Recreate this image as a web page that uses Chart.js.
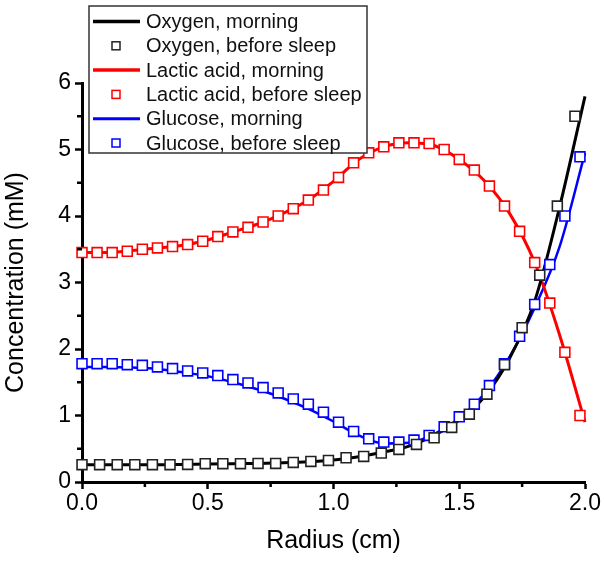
<!DOCTYPE html>
<html>
<head>
<meta charset="utf-8">
<title>Concentration vs radius</title>
<script src="https://cdn.jsdelivr.net/npm/chart.js@4/dist/chart.umd.min.js"></script>
<style>
    html, body { margin: 0; padding: 0; background: #fff; }
    canvas { display: block; }
</style>
</head>
<body>
<canvas id="concChart" width="604" height="562"></canvas>
<script>
// Radial profiles: solid lines = morning, open squares = before sleep
const morningRadius = [0.0, 0.1, 0.2, 0.3, 0.4, 0.5, 0.6, 0.7, 0.8, 0.9, 1.0,
                       1.1, 1.2, 1.3, 1.4, 1.5, 1.6, 1.7, 1.8, 1.9, 2.0];
const oxygenMorning  = [0.26, 0.26, 0.26, 0.26, 0.265, 0.27, 0.275, 0.28, 0.29, 0.305, 0.33,
                        0.38, 0.45, 0.54, 0.70, 0.93, 1.28, 1.86, 2.72, 4.15, 5.80];
const lacticMorning  = [3.45, 3.45, 3.48, 3.52, 3.56, 3.64, 3.76, 3.88, 4.04, 4.24, 4.52,
                        4.85, 5.04, 5.10, 5.06, 4.85, 4.53, 4.04, 3.30, 2.20, 0.90];
const glucoseMorning = [1.73, 1.73, 1.72, 1.70, 1.65, 1.59, 1.50, 1.39, 1.26, 1.10, 0.91,
                        0.70, 0.58, 0.59, 0.72, 0.96, 1.33, 1.88, 2.62, 3.55, 4.95];

const sleepRadius = [0.00, 0.06, 0.12, 0.18, 0.24, 0.30, 0.36, 0.42, 0.48, 0.54, 0.60, 0.66,
                     0.72, 0.78, 0.84, 0.90, 0.96, 1.02, 1.08, 1.14, 1.20, 1.26, 1.32, 1.38,
                     1.44, 1.50, 1.56, 1.62, 1.68, 1.74, 1.80, 1.86, 1.92, 1.98];
const lacticSleep  = [3.45, 3.45, 3.45, 3.47, 3.50, 3.52, 3.54, 3.57, 3.62, 3.69, 3.76, 3.83,
                      3.91, 4.00, 4.11, 4.24, 4.39, 4.58, 4.80, 4.95, 5.04, 5.10, 5.10, 5.09,
                      5.00, 4.85, 4.69, 4.45, 4.15, 3.77, 3.30, 2.69, 1.95, 1.00];
const glucoseSleep = [1.78, 1.78, 1.78, 1.765, 1.755, 1.73, 1.705, 1.67, 1.64, 1.60, 1.54, 1.49,
                      1.42, 1.34, 1.25, 1.17, 1.05, 0.90, 0.76, 0.65, 0.60, 0.60, 0.63, 0.70,
                      0.83, 0.98, 1.17, 1.45, 1.78, 2.19, 2.67, 3.27, 4.00, 4.89];

const oxygenSleepRadius = [0.00, 0.07, 0.14, 0.21, 0.28, 0.35, 0.42, 0.49, 0.56, 0.63, 0.70,
                           0.77, 0.84, 0.91, 0.98, 1.05, 1.12, 1.19, 1.26, 1.33, 1.40, 1.47,
                           1.54, 1.61, 1.68, 1.75, 1.82, 1.89, 1.96];
const oxygenSleep = [0.26, 0.26, 0.26, 0.26, 0.26, 0.26, 0.265, 0.275, 0.275, 0.275, 0.28,
                     0.28, 0.295, 0.31, 0.325, 0.365, 0.385, 0.435, 0.49, 0.565, 0.665, 0.82,
                     1.02, 1.32, 1.765, 2.32, 3.11, 4.15, 5.50];

const xTicks = [0.0, 0.5, 1.0, 1.5, 2.0];
const yTicks = [0, 1, 2, 3, 4, 5, 6];

(function() {
    'use strict';

    const FONT = '"Liberation Sans", Arial, Helvetica, sans-serif';

    function pairs(xs, ys) {
        return xs.map((x, i) => ({ x: x, y: ys[i] }));
    }

    function lineSet(label, xs, ys, color, width) {
        return {
            label: label,
            data: pairs(xs, ys),
            borderColor: color,
            borderWidth: width,
            pointRadius: 0,
            cubicInterpolationMode: 'monotone',
            clip: false,
            order: 2
        };
    }

    function markerSet(label, xs, ys, color) {
        return {
            label: label,
            data: pairs(xs, ys),
            showLine: false,
            pointStyle: 'rect',
            pointRadius: 7,
            pointBorderWidth: 1.6,
            pointBorderColor: color,
            pointBackgroundColor: '#fff',
            borderColor: color,
            clip: false,
            order: 1
        };
    }

    // half-step ticks between the labelled ones
    const minorTicks = {
        id: 'minorTicks',
        afterDraw(chart) {
            const ctx = chart.ctx;
            const { x, y } = chart.scales;
            ctx.save();
            ctx.strokeStyle = '#000';
            ctx.lineWidth = 2.5;
            ctx.beginPath();
            for (let i = 0; i < xTicks.length - 1; i++) {
                const px = x.getPixelForValue((xTicks[i] + xTicks[i + 1]) / 2);
                ctx.moveTo(px, y.bottom);
                ctx.lineTo(px, y.bottom + 5);
            }
            for (let i = 0; i < yTicks.length - 1; i++) {
                const py = y.getPixelForValue((yTicks[i] + yTicks[i + 1]) / 2);
                ctx.moveTo(x.left, py);
                ctx.lineTo(x.left - 5, py);
            }
            ctx.stroke();
            ctx.restore();
        }
    };

    // boxed legend in the upper left corner
    const boxLegend = {
        id: 'boxLegend',
        afterDraw(chart) {
            const ctx = chart.ctx;
            const box = { left: 89, top: 6, right: 367, bottom: 153 };
            const rowH = 24.3;
            ctx.save();
            ctx.fillStyle = '#fff';
            ctx.fillRect(box.left, box.top, box.right - box.left, box.bottom - box.top);
            ctx.strokeStyle = '#333';
            ctx.lineWidth = 1.5;
            ctx.strokeRect(box.left, box.top, box.right - box.left, box.bottom - box.top);

            ctx.font = '20px ' + FONT;
            ctx.textBaseline = 'middle';
            ctx.textAlign = 'left';
            chart.data.datasets.forEach((ds, i) => {
                const cy = 21.5 + i * rowH;
                if (ds.showLine === false) {
                    ctx.strokeStyle = ds.pointBorderColor;
                    ctx.lineWidth = 1.5;
                    ctx.strokeRect(112, cy - 4, 8, 8);
                } else {
                    ctx.strokeStyle = ds.borderColor;
                    ctx.lineWidth = ds.borderWidth + 0.5;
                    ctx.beginPath();
                    ctx.moveTo(93, cy);
                    ctx.lineTo(140, cy);
                    ctx.stroke();
                }
                ctx.fillStyle = '#111';
                ctx.fillText(ds.label, 146, cy + 1);
            });
            ctx.restore();
        }
    };

    function createChart() {
        const ctx = document.getElementById('concChart');
        Chart.defaults.font.family = FONT;
        Chart.defaults.color = '#000';

        new Chart(ctx, {
            type: 'line',
            data: {
                datasets: [
                    lineSet('Oxygen, morning', morningRadius, oxygenMorning, '#000', 3),
                    markerSet('Oxygen, before sleep', oxygenSleepRadius, oxygenSleep, '#222'),
                    lineSet('Lactic acid, morning', morningRadius, lacticMorning, '#ff0000', 3),
                    markerSet('Lactic acid, before sleep', sleepRadius, lacticSleep, '#ff0000'),
                    lineSet('Glucose, morning', morningRadius, glucoseMorning, '#0000ff', 2.5),
                    markerSet('Glucose, before sleep', sleepRadius, glucoseSleep, '#0000ff')
                ]
            },
            options: {
                responsive: false,
                animation: false,
                devicePixelRatio: 1,
                layout: { padding: { left: 0, top: 83, right: 19, bottom: 0 } },
                plugins: {
                    legend: { display: false },
                    tooltip: { enabled: false }
                },
                scales: {
                    x: {
                        type: 'linear',
                        min: 0,
                        max: 2,
                        afterFit(scale) { scale.height = 80; },
                        afterBuildTicks(scale) {
                            scale.ticks = xTicks.map(v => ({ value: v }));
                        },
                        border: { display: true, color: '#000', width: 3 },
                        grid: {
                            display: true,
                            drawOnChartArea: false,
                            drawTicks: true,
                            tickLength: 7,
                            tickWidth: 2.5,
                            tickColor: '#000'
                        },
                        ticks: {
                            padding: 1,
                            maxRotation: 0,
                            font: { size: 23 },
                            callback: v => Number(v).toFixed(1)
                        },
                        title: {
                            display: true,
                            text: 'Radius (cm)',
                            font: { size: 25 },
                            padding: { top: 0, bottom: 6 }
                        }
                    },
                    y: {
                        type: 'linear',
                        min: 0,
                        max: 6,
                        afterFit(scale) { scale.width = 82; },
                        afterBuildTicks(scale) {
                            scale.ticks = yTicks.map(v => ({ value: v }));
                        },
                        border: { display: true, color: '#000', width: 3 },
                        grid: {
                            display: true,
                            drawOnChartArea: false,
                            drawTicks: true,
                            tickLength: 7,
                            tickWidth: 2.5,
                            tickColor: '#000'
                        },
                        ticks: {
                            padding: 4,
                            font: { size: 23 },
                            callback: v => String(v)
                        },
                        title: {
                            display: true,
                            text: 'Concentration (mM)',
                            font: { size: 25 },
                            padding: { top: 1, bottom: 0 }
                        }
                    }
                }
            },
            plugins: [minorTicks, boxLegend]
        });
    }

    if (document.readyState === 'loading') {
        document.addEventListener('DOMContentLoaded', createChart);
    } else {
        createChart();
    }
})();
</script>
</body>
</html>
